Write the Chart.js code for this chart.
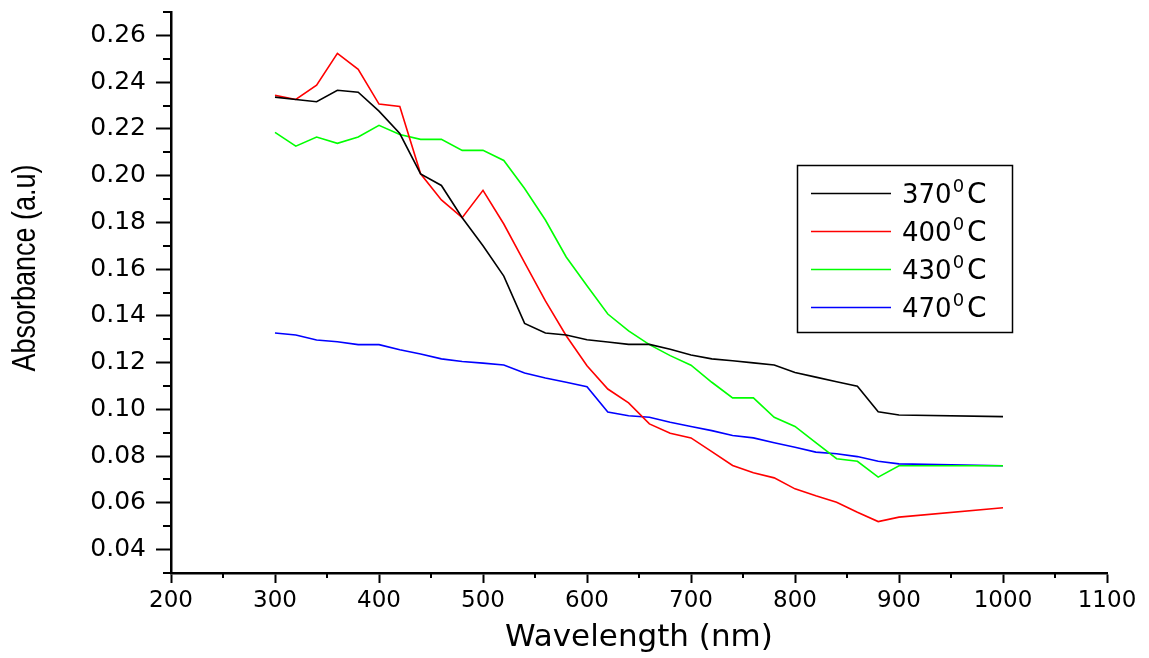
<!DOCTYPE html>
<html>
<head>
<meta charset="utf-8">
<title>Absorbance</title>
<script src="https://cdn.jsdelivr.net/npm/chart.js@4.4.1/dist/chart.umd.min.js"></script>
<style>
    body { margin: 0; background: #ffffff; }
    canvas { display: block; }
</style>
</head>
<body>
<canvas id="graficoAbsorbancia" width="1149" height="658"></canvas>
<script>
const wavelengths = [300, 320, 340, 360, 380, 400, 420, 440, 460, 480, 500, 520, 540, 560, 580, 600,
    620, 640, 660, 680, 700, 720, 740, 760, 780, 800, 820, 840, 860, 880, 900, 1000];

const abs370 = [0.2336, 0.2326, 0.2316, 0.2365, 0.2357, 0.2276, 0.2180, 0.2007, 0.1958, 0.1820, 0.1700, 0.1570,
    0.1368, 0.1327, 0.1318, 0.1298, 0.1288, 0.1278, 0.1278, 0.1257, 0.1233, 0.1216, 0.1208, 0.1199,
    0.1190, 0.1158, 0.1138, 0.1118, 0.1099, 0.0990, 0.0976, 0.0969];
const abs400 = [0.2344, 0.2326, 0.2387, 0.2523, 0.2455, 0.2306, 0.2296, 0.2008, 0.1896, 0.1820, 0.1937, 0.1793,
    0.1628, 0.1464, 0.1315, 0.1187, 0.1087, 0.1028, 0.0938, 0.0898, 0.0878, 0.0819, 0.0760, 0.0729,
    0.0707, 0.0660, 0.0630, 0.0603, 0.0560, 0.0520, 0.0539, 0.0579];
const abs430 = [0.2185, 0.2126, 0.2165, 0.2138, 0.2165, 0.2215, 0.2176, 0.2155, 0.2155, 0.2108, 0.2108, 0.2065,
    0.1945, 0.1810, 0.1652, 0.1529, 0.1408, 0.1336, 0.1277, 0.1230, 0.1189, 0.1116, 0.1049, 0.1049,
    0.0966, 0.0927, 0.0858, 0.0789, 0.0778, 0.0710, 0.0759, 0.0759];
const abs470 = [0.1327, 0.1318, 0.1297, 0.1289, 0.1277, 0.1277, 0.1255, 0.1237, 0.1216, 0.1205, 0.1198, 0.1190,
    0.1156, 0.1134, 0.1116, 0.1097, 0.0989, 0.0973, 0.0966, 0.0945, 0.0927, 0.0909, 0.0888, 0.0878,
    0.0857, 0.0838, 0.0817, 0.0810, 0.0798, 0.0778, 0.0767, 0.0759];

const seriesLabels = ["370", "400", "430", "470"];
const seriesColors = ["#000000", "#ff0000", "#00ff00", "#0000ff"];

const xTicks = [200, 300, 400, 500, 600, 700, 800, 900, 1000, 1100];
const xMinorTicks = [250, 350, 450, 550, 650, 750, 850, 950, 1050];
const yTicks = [0.04, 0.06, 0.08, 0.10, 0.12, 0.14, 0.16, 0.18, 0.20, 0.22, 0.24, 0.26];
const yMinorTicks = [0.03, 0.05, 0.07, 0.09, 0.11, 0.13, 0.15, 0.17, 0.19, 0.21, 0.23, 0.25, 0.27];

function toPoints(values) {
    return wavelengths.map(function (w, i) {
        return { x: w, y: values[i] };
    });
}

const allSeries = [abs370, abs400, abs430, abs470];

// minor ticks, y title and the boxed legend with superscript degrees
const extras = {
    id: "extras",
    afterDraw: function (chart) {
        const ctx = chart.ctx;
        const xs = chart.scales.x;
        const ys = chart.scales.y;
        const area = chart.chartArea;

        ctx.save();
        ctx.strokeStyle = "#000000";
        ctx.lineWidth = 2;
        yMinorTicks.forEach(function (v) {
            const py = Math.round(ys.getPixelForValue(v));
            ctx.beginPath();
            ctx.moveTo(area.left - 8, py);
            ctx.lineTo(area.left, py);
            ctx.stroke();
        });
        xMinorTicks.forEach(function (v) {
            const px = Math.round(xs.getPixelForValue(v));
            ctx.beginPath();
            ctx.moveTo(px, area.bottom);
            ctx.lineTo(px, area.bottom + 5);
            ctx.stroke();
        });

        // y axis title
        ctx.save();
        ctx.translate(35, 268);
        ctx.rotate(-Math.PI / 2);
        ctx.scale(1, 1.2);
        ctx.fillStyle = "#000000";
        ctx.font = "27px 'Liberation Sans', Arial, sans-serif";
        ctx.textAlign = "center";
        ctx.textBaseline = "alphabetic";
        ctx.fillText("Absorbance (a.u)", 0, 0);
        ctx.restore();

        // legend
        ctx.lineWidth = 1.5;
        ctx.strokeStyle = "#000000";
        ctx.strokeRect(797.5, 165.5, 215, 167);
        seriesLabels.forEach(function (lbl, i) {
            const ly = 193 + i * 38;
            ctx.strokeStyle = seriesColors[i];
            ctx.lineWidth = 1.5;
            ctx.beginPath();
            ctx.moveTo(811, ly + 0.5);
            ctx.lineTo(891, ly + 0.5);
            ctx.stroke();

            ctx.fillStyle = "#000000";
            ctx.textAlign = "left";
            ctx.textBaseline = "alphabetic";
            ctx.font = "26px 'DejaVu Sans', sans-serif";
            ctx.fillText(lbl, 902, ly + 10);
            const w1 = ctx.measureText(lbl).width;
            ctx.font = "18px 'DejaVu Sans', sans-serif";
            ctx.fillText("0", 902 + w1 + 1, ly - 1);
            const w2 = ctx.measureText("0").width;
            ctx.font = "28px 'DejaVu Sans', sans-serif";
            ctx.fillText("C", 902 + w1 + w2 + 4, ly + 10);
        });
        ctx.restore();
    }
};

const grafico = document.getElementById("graficoAbsorbancia");

new Chart(grafico, {
    type: "line",
    data: {
        datasets: allSeries.map(function (values, i) {
            return {
                label: seriesLabels[i] + "\u00b0C",
                data: toPoints(values),
                borderColor: seriesColors[i],
                backgroundColor: seriesColors[i],
                borderWidth: 1.6,
                pointRadius: 0,
                tension: 0,
                fill: false
            };
        })
    },
    options: {
        responsive: false,
        animation: false,
        devicePixelRatio: 1,
        layout: {
            padding: { top: 12, right: 42, bottom: 0, left: 0 }
        },
        plugins: {
            legend: { display: false },
            tooltip: { enabled: false }
        },
        scales: {
            x: {
                type: "linear",
                min: 200,
                max: 1100,
                afterBuildTicks: function (scale) {
                    scale.ticks = xTicks.map(function (v) { return { value: v }; });
                },
                afterFit: function (scale) {
                    scale.height = 85;
                    scale.paddingLeft = 0;
                    scale.paddingRight = 0;
                },
                ticks: {
                    color: "#000000",
                    font: { family: "'DejaVu Sans', sans-serif", size: 23 },
                    padding: 4,
                    maxRotation: 0,
                    autoSkip: false,
                    callback: function (v) {
                        return String(v);
                    }
                },
                grid: {
                    drawOnChartArea: false,
                    drawTicks: true,
                    tickLength: 10,
                    tickWidth: 2,
                    tickColor: "#000000"
                },
                border: { display: true, color: "#000000", width: 2.5 },
                title: {
                    display: true,
                    text: "Wavelength (nm)",
                    color: "#000000",
                    font: { family: "'DejaVu Sans', sans-serif", size: 31 },
                    padding: { top: 0, bottom: 1 }
                }
            },
            y: {
                min: 0.03,
                max: 0.27,
                afterBuildTicks: function (scale) {
                    scale.ticks = yTicks.map(function (v) { return { value: v }; });
                },
                afterFit: function (scale) {
                    scale.width = 171;
                    scale.paddingTop = 0;
                    scale.paddingBottom = 0;
                },
                ticks: {
                    color: "#000000",
                    font: { family: "'DejaVu Sans', sans-serif", size: 25 },
                    padding: 10,
                    autoSkip: false,
                    callback: function (v) {
                        return Number(v).toFixed(2);
                    }
                },
                grid: {
                    drawOnChartArea: false,
                    drawTicks: true,
                    tickLength: 15,
                    tickWidth: 2,
                    tickColor: "#000000"
                },
                border: { display: true, color: "#000000", width: 2.5 }
            }
        }
    },
    plugins: [extras]
});
</script>
</body>
</html>
